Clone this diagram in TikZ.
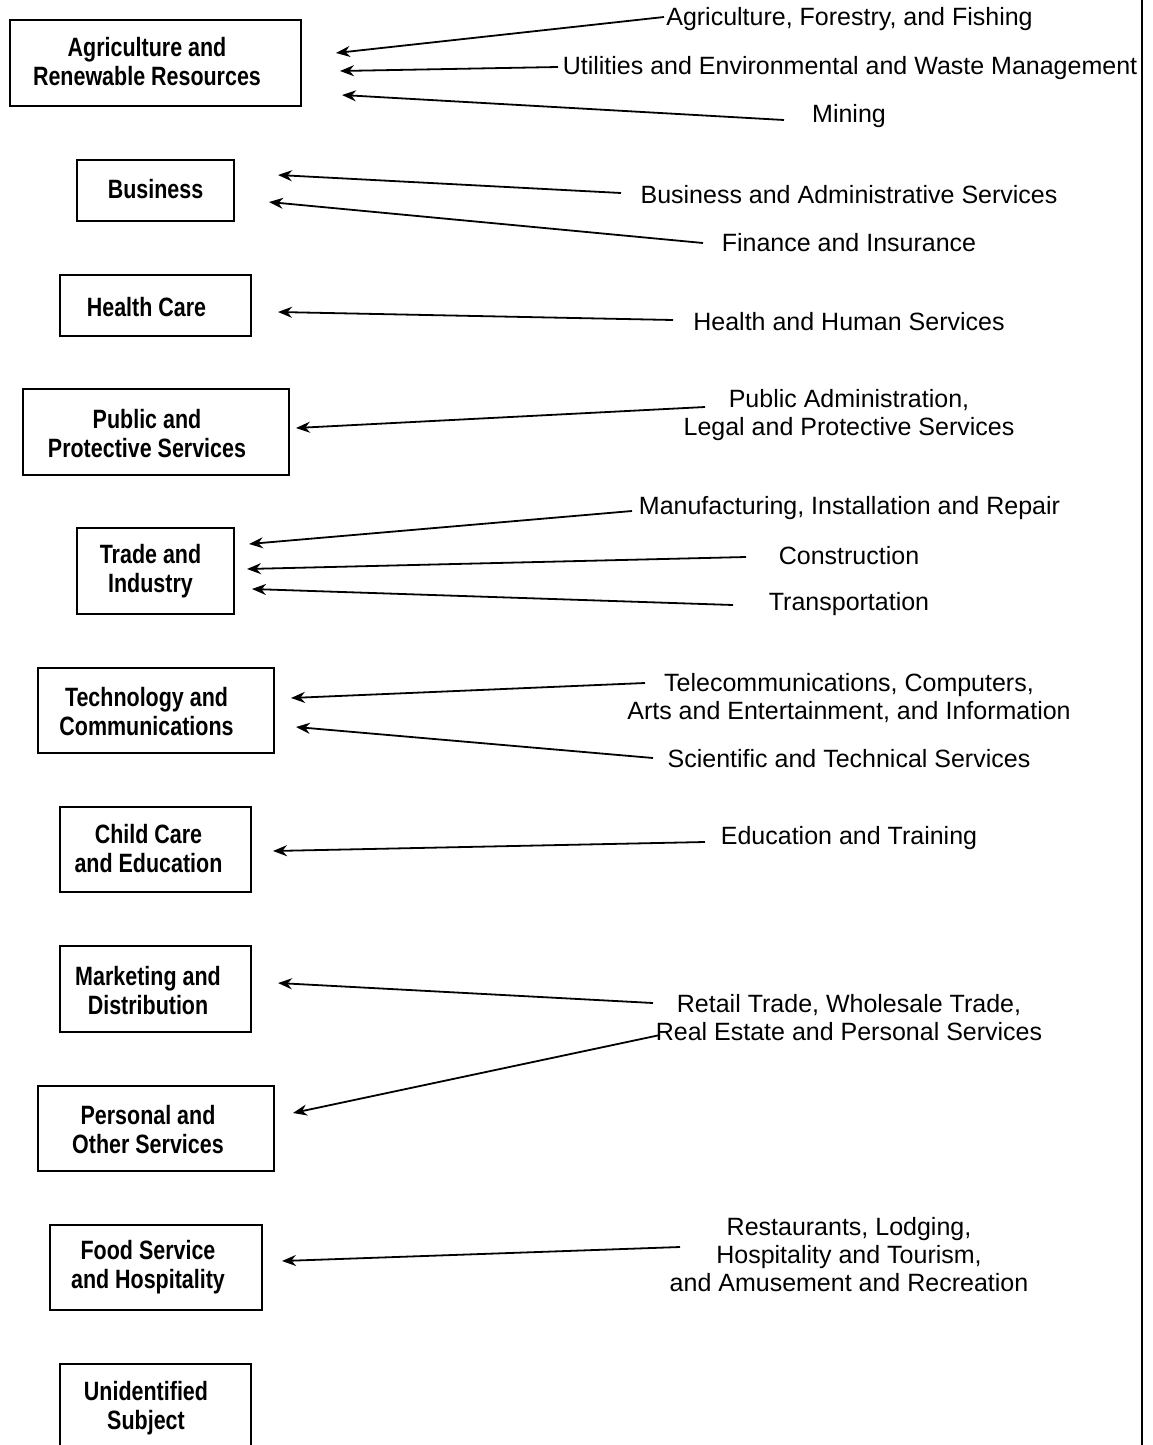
\documentclass[tikz,border=0pt]{standalone}
\usepackage{fontspec}
\setmainfont{Liberation Sans}
\newfontfamily\boxfont[FakeStretch=0.81]{Liberation Sans}
\usetikzlibrary{arrows.meta}
\tikzset{
  boxframe/.style={draw, line width=2pt, inner sep=0pt},
  boxtext/.style={font=\boxfont\bfseries\fontsize{26.5}{29}\selectfont, align=center, inner sep=0pt},
  lab/.style={font=\fontsize{25}{28}\selectfont, align=center, inner sep=0pt},
  arr/.style={line width=1.8pt, -{Stealth[length=14pt,width=11pt]}},
}
\begin{document}
\begin{tikzpicture}[x=1pt,y=-1pt]
\useasboundingbox (0,0) rectangle (1152,1445);
% frame line on right
\coordinate (vtop) at (1142,0);
\coordinate (vbot) at (1142,1445);
\draw[line width=2.8pt] (vtop) -- (vbot);

% boxes
\node[boxframe, minimum width=291pt, minimum height=86pt] (b1) at (155.5,63) {};
\node[boxtext] (t1) at (147,62) {Agriculture and\\Renewable Resources};
\node[boxframe, minimum width=157pt, minimum height=61pt] (b2) at (155.5,190.5) {};
\node[boxtext] (t2) at (155.5,189) {Business};
\node[boxframe, minimum width=191pt, minimum height=61pt] (b3) at (155.5,305.5) {};
\node[boxtext] (t3) at (146.5,307) {Health Care};
\node[boxframe, line width=2.8pt, minimum width=266pt, minimum height=86pt] (b4) at (156,432) {};
\node[boxtext] (t4) at (147,434) {Public and\\Protective Services};
\node[boxframe, minimum width=157pt, minimum height=86pt] (b5) at (155.5,571) {};
\node[boxtext] (t5) at (150.5,571) {Trade and\\Industry};
\node[boxframe, minimum width=236pt, minimum height=85pt] (b6) at (156,710.5) {};
\node[boxtext] (t6) at (146.5,712) {Technology and\\Communications};
\node[boxframe, minimum width=191pt, minimum height=85pt] (b7) at (155.5,849.5) {};
\node[boxtext] (t7) at (148.5,849) {Child Care\\and Education};
\node[boxframe, minimum width=191pt, minimum height=86pt] (b8) at (155.5,989) {};
\node[boxtext] (t8) at (148,991) {Marketing and\\Distribution};
\node[boxframe, minimum width=236pt, minimum height=85pt] (b9) at (156,1128.5) {};
\node[boxtext] (t9) at (148,1130) {Personal and\\Other Services};
\node[boxframe, minimum width=212pt, minimum height=85pt] (b10) at (156,1267.5) {};
\node[boxtext] (t10) at (148,1267) {Food Service\\and Hospitality};
\node[boxframe, minimum width=191pt, minimum height=88pt] (b11) at (155.5,1408) {};
\node[boxtext] (t11) at (146,1408) {Unidentified\\Subject};

% labels
\node[lab] (l1) at (849.5,19) {Agriculture, Forestry, and Fishing};
\node[lab] (l2) at (850,68) {Utilities and Environmental and Waste Management};
\node[lab] (l3) at (849,116) {Mining};
\node[lab] (l4) at (849,195) {Business and Administrative Services};
\node[lab] (l5) at (849,243) {Finance and Insurance};
\node[lab] (l6) at (849,322) {Health and Human Services};
\node[lab] (l7) at (849,415) {Public Administration,\\Legal and Protective Services};
\node[lab] (l8) at (849.5,508) {Manufacturing, Installation and Repair};
\node[lab] (l9) at (849,556) {Construction};
\node[lab] (l10) at (849,604) {Transportation};
\node[lab] (l11) at (849,698) {Telecommunications, Computers,\\Arts and Entertainment, and Information};
\node[lab] (l12) at (849,759) {Scientific and Technical Services};
\node[lab] (l13) at (849,838) {Education and Training};
\node[lab] (l14) at (849,1018) {Retail Trade, Wholesale Trade,\\Real Estate and Personal Services};
\node[lab] (l15) at (849,1255) {Restaurants, Lodging,\\Hospitality and Tourism,\\and Amusement and Recreation};

% arrow end points
\coordinate (s1) at (664,17);   \coordinate (e1) at (336,53);
\coordinate (s2) at (558,67);   \coordinate (e2) at (340,71);
\coordinate (s3) at (784,120);  \coordinate (e3) at (342,95);
\coordinate (s4) at (621,193);  \coordinate (e4) at (278,175);
\coordinate (s5) at (703,243);  \coordinate (e5) at (269,202);
\coordinate (s6) at (673,320);  \coordinate (e6) at (278,312);
\coordinate (s7) at (705,407);  \coordinate (e7) at (296,428);
\coordinate (s8) at (632,511);  \coordinate (e8) at (249,544);
\coordinate (s9) at (746,557);  \coordinate (e9) at (247,569);
\coordinate (s10) at (733,605); \coordinate (e10) at (252,589);
\coordinate (s11) at (645,683); \coordinate (e11) at (291,698);
\coordinate (s12) at (653,758); \coordinate (e12) at (296,727);
\coordinate (s13) at (705,842); \coordinate (e13) at (273,851);
\coordinate (s14) at (653,1003);\coordinate (e14) at (278,983);
\coordinate (s15) at (660,1035);\coordinate (e15) at (293,1113);
\coordinate (s16) at (680,1247);\coordinate (e16) at (282,1261);

\foreach \i in {1,...,16} { \draw[arr] (s\i) -- (e\i); }
\end{tikzpicture}
\end{document}
